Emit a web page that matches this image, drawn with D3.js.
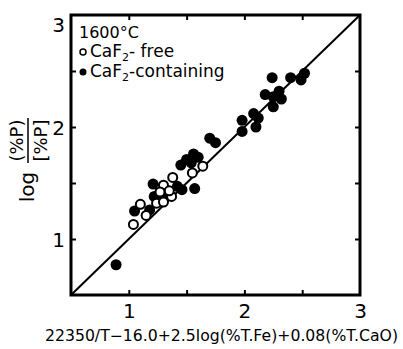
<!DOCTYPE html>
<html>
<head>
<meta charset="utf-8">
<script src="https://cdn.jsdelivr.net/npm/d3@7"></script>
<style>
  body { margin: 0; background: #fff; }
  text { font-family: "DejaVu Sans", sans-serif; fill: #000; }
</style>
</head>
<body>
<div id="chart"></div>
<script>
// CaF2-free (open circles)
const freeX = [1.04, 1.10, 1.15, 1.24, 1.30, 1.30, 1.37, 1.35, 1.38, 1.55, 1.64, 1.27];
const freeY = [1.13, 1.31, 1.21, 1.32, 1.33, 1.48, 1.38, 1.43, 1.55, 1.59, 1.65, 1.42];
// CaF2-containing (filled circles)
const fullX = [0.89, 1.05, 1.18, 1.22, 1.21, 1.27, 1.33, 1.42, 1.46, 1.45, 1.50, 1.56, 1.60, 1.54, 1.57,
  1.70, 1.75, 1.98, 1.98, 2.08, 2.12, 2.10, 2.24, 2.18, 2.25, 2.30, 2.32, 2.25, 2.40, 2.49, 2.52];
const fullY = [0.77, 1.25, 1.26, 1.38, 1.49, 1.36, 1.40, 1.47, 1.44, 1.66, 1.71, 1.76, 1.73, 1.68, 1.45,
  1.90, 1.86, 2.06, 1.96, 2.12, 2.08, 2.00, 2.44, 2.29, 2.27, 2.32, 2.25, 2.18, 2.44, 2.42, 2.48];
const majorTicks = [1, 2, 3];
const minorTicks = [1, 1.5, 2, 2.5];

const W = 403, H = 349;
const svg = d3.select('#chart').append('svg').attr('width', W).attr('height', H);

const x = d3.scaleLinear().domain([0.5, 3]).range([71, 360]);
const y = d3.scaleLinear().domain([0.5, 3]).range([295, 15]);

// inward ticks on all four sides
svg.append('g').attr('transform', 'translate(0,' + y(0.5) + ')')
  .call(d3.axisTop(x).tickValues(minorTicks).tickSize(5).tickFormat(''))
  .call(g => g.select('.domain').remove());
svg.append('g').attr('transform', 'translate(0,' + y(3) + ')')
  .call(d3.axisBottom(x).tickValues(minorTicks).tickSize(5).tickFormat(''))
  .call(g => g.select('.domain').remove());
svg.append('g').attr('transform', 'translate(' + x(0.5) + ',0)')
  .call(d3.axisRight(y).tickValues(minorTicks).tickSize(5).tickFormat(''))
  .call(g => g.select('.domain').remove());
svg.append('g').attr('transform', 'translate(' + x(3) + ',0)')
  .call(d3.axisLeft(y).tickValues(minorTicks).tickSize(5).tickFormat(''))
  .call(g => g.select('.domain').remove());
svg.selectAll('.tick line').attr('stroke', '#000').attr('stroke-width', 2);

// frame
svg.append('rect')
  .attr('x', x(0.5)).attr('y', y(3))
  .attr('width', x(3) - x(0.5)).attr('height', y(0.5) - y(3))
  .attr('fill', 'none').attr('stroke', '#000').attr('stroke-width', 3);

// tick labels
const xl = svg.append('g').attr('transform', 'translate(0,' + (y(0.5) + 6) + ')')
  .call(d3.axisBottom(x).tickValues(majorTicks).tickSize(0).tickFormat(d3.format('d')));
xl.select('.domain').remove();
xl.selectAll('text').style('font-size', '20px');

const yl = svg.append('g').attr('transform', 'translate(' + (x(0.5) - 3) + ',0)')
  .call(d3.axisLeft(y).tickValues(majorTicks).tickSize(0).tickFormat(d3.format('d')));
yl.select('.domain').remove();
yl.selectAll('text').style('font-size', '20px')
  .attr('dy', d => d === 3 ? '0.8em' : '0.35em');

// 1:1 line
svg.append('line')
  .attr('x1', x(0.5)).attr('y1', y(0.5)).attr('x2', x(3)).attr('y2', y(3))
  .attr('stroke', '#000').attr('stroke-width', 2);

// points
svg.append('g').selectAll('circle').data(fullX).join('circle')
  .attr('cx', d => x(d)).attr('cy', (d, i) => y(fullY[i]))
  .attr('r', 5.5).attr('fill', '#000');
svg.append('g').selectAll('circle').data(freeX).join('circle')
  .attr('cx', d => x(d)).attr('cy', (d, i) => y(freeY[i]))
  .attr('r', 4.5).attr('fill', '#fff').attr('stroke', '#000').attr('stroke-width', 2);

// legend
svg.append('text').attr('x', 79).attr('y', 38).style('font-size', '16px').text('1600°C');
svg.append('circle').attr('cx', 83).attr('cy', 52).attr('r', 3)
  .attr('fill', '#fff').attr('stroke', '#000').attr('stroke-width', 1.5);
svg.append('circle').attr('cx', 83).attr('cy', 72).attr('r', 3.5).attr('fill', '#000');
const t1 = svg.append('text').attr('x', 90).attr('y', 57).style('font-size', '17px');
t1.append('tspan').text('CaF');
t1.append('tspan').attr('dy', 4).style('font-size', '11px').text('2');
t1.append('tspan').attr('dy', -4).text('- free');
const t2 = svg.append('text').attr('x', 90).attr('y', 77).style('font-size', '17px');
t2.append('tspan').text('CaF');
t2.append('tspan').attr('dy', 4).style('font-size', '11px').text('2');
t2.append('tspan').attr('dy', -4).text('-containing');

// x title
svg.append('text').attr('x', 45).attr('y', 341)
  .attr('textLength', 353).attr('lengthAdjust', 'spacingAndGlyphs')
  .style('font-size', '15px')
  .text('22350/T\u221216.0+2.5log(%T.Fe)+0.08(%T.CaO)');

// y title
const yt = svg.append('g').attr('transform', 'translate(28,163) rotate(-90)');
yt.append('text').attr('x', -24).attr('y', 6).attr('text-anchor', 'middle')
  .style('font-size', '20px').text('log');
yt.append('line').attr('x1', 0).attr('x2', 45).attr('y1', 0).attr('y2', 0)
  .attr('stroke', '#000').attr('stroke-width', 1.5);
yt.append('text').attr('x', 22.5).attr('y', -5).attr('text-anchor', 'middle')
  .style('font-size', '18px').text('(%P)');
yt.append('text').attr('x', 22.5).attr('y', 19).attr('text-anchor', 'middle')
  .style('font-size', '18px').text('[%P]');
</script>
</body>
</html>
